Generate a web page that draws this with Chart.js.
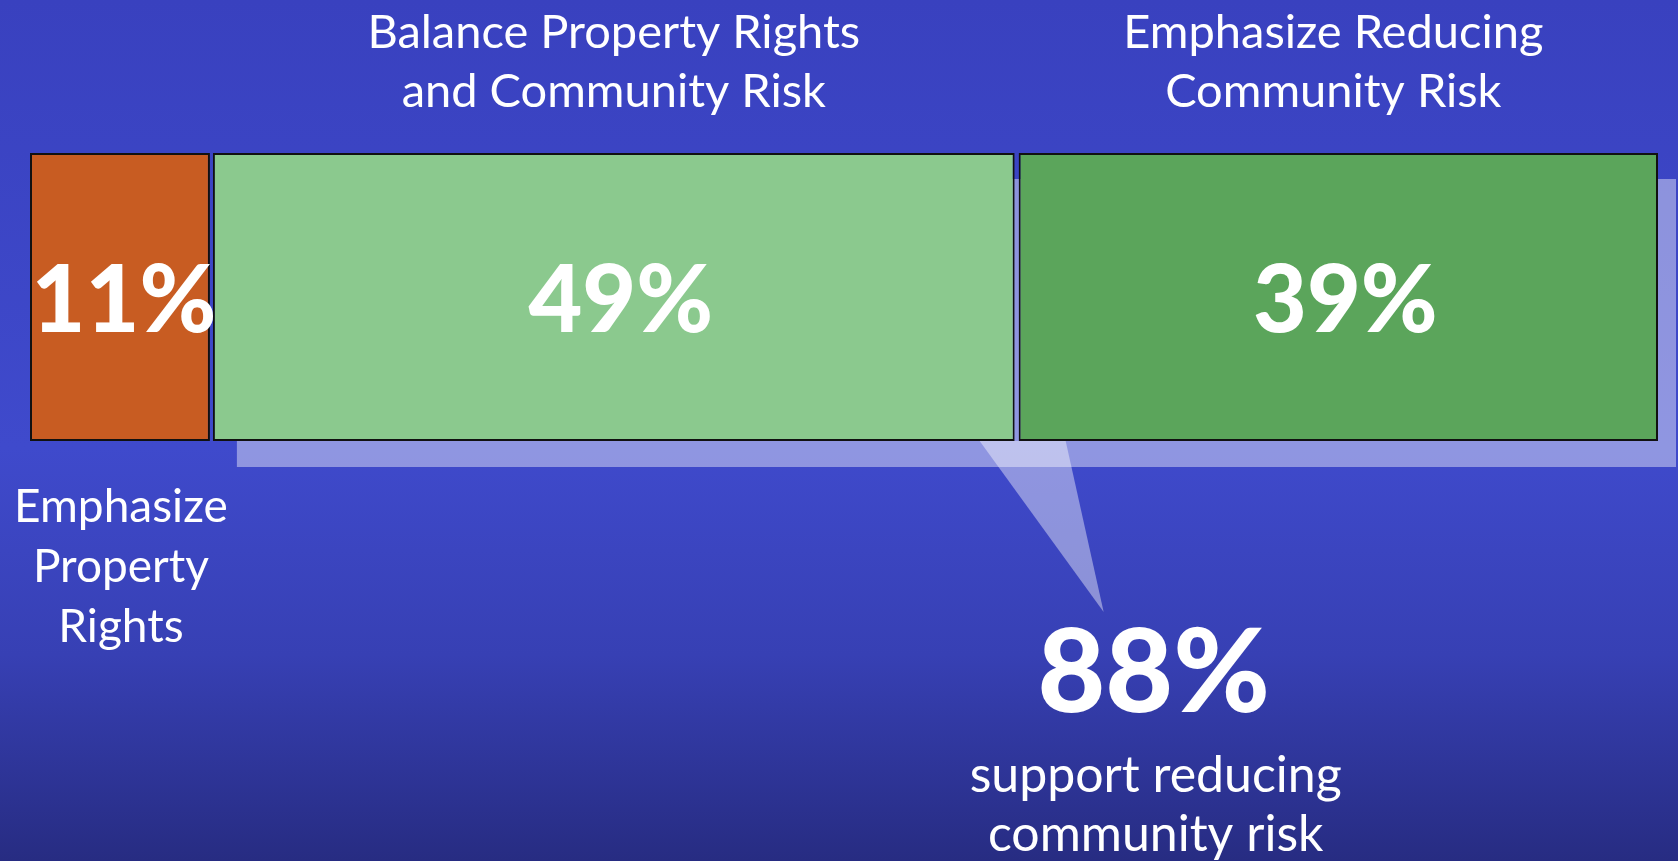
<!DOCTYPE html>
<html><head><meta charset="utf-8">
<script src="https://cdn.jsdelivr.net/npm/chart.js@4"></script>
<style>
html,body{margin:0;padding:0;width:1678px;height:861px;overflow:hidden;}
body{background:linear-gradient(to bottom,#3941bf 0%,#3f4acc 52%,#3740b4 76%,#272c82 100%);}
canvas{display:block;}
</style></head><body>
<canvas id="c" width="1678" height="861"></canvas>
<script>
// ---- data ----
const categories = [
  ["Emphasize", "Property", "Rights"],
  ["Balance Property Rights", "and Community Risk"],
  ["Emphasize Reducing", "Community Risk"]
];
const values = [11, 49, 39];
const summaryText = ["support reducing", "community risk"];

// ---- styles ----
const barColors = ['#c85c22', '#8bc98e', '#5ba55b'];
const FONT = "Lato, 'Open Sans', 'Noto Sans', sans-serif";

const overlay = {
  id: 'overlay',
  afterDatasetsUpdate(chart) {
    // small visual gaps between adjoining segments
    const els = chart.data.datasets.map((d, i) => chart.getDatasetMeta(i).data[0]);
    els.forEach((el, i) => {
      if (i > 0) el.base += 2;
      if (i < els.length - 1) el.x -= (i === 0 ? 1 : 2);
    });
  },
  beforeDatasetsDraw(chart) {
    const c = chart.ctx;
    const els = chart.data.datasets.map((d, i) => chart.getDatasetMeta(i).data[0]);
    const light = els[1], dark = els[2];
    const top = light.y - light.height / 2, bottom = light.y + light.height / 2;
    c.save();
    c.fillStyle = 'rgba(255,255,255,0.42)';
    // drop shadow behind the "reducing risk" group
    c.fillRect(light.base + 24, top + 26, (dark.x + 18) - (light.base + 24), light.height);
    // callout wedge
    const b = (light.x + dark.base) / 2;
    c.beginPath();
    c.moveTo(b - 37, bottom);
    c.lineTo(b + 49, bottom);
    c.lineTo(b + 87, bottom + 171);
    c.closePath();
    c.fill();
    c.restore();
  },
  afterDraw(chart) {
    const c = chart.ctx;
    const els = chart.data.datasets.map((d, i) => chart.getDatasetMeta(i).data[0]);
    c.save();
    c.fillStyle = '#ffffff';
    c.textAlign = 'center';
    c.textBaseline = 'alphabetic';
    els.forEach((el, i) => {
      const cx = (el.base + el.x) / 2;
      const top = el.y - el.height / 2, bottom = el.y + el.height / 2;
      c.font = `900 93px ${FONT}`;
      c.fillText(values[i] + '%', cx + (i === 0 ? 4 : 7), el.y + 35);
      const lines = categories[i];
      if (i === 0) {
        c.font = `400 46px ${FONT}`;
        lines.forEach((t, k) => c.fillText(t, cx + 1, bottom + 81 + k * 60));
      } else {
        c.font = `400 47px ${FONT}`;
        lines.forEach((t, k) => c.fillText(t, cx + (i === 2 ? -5 : 0), top - 46 - (lines.length - 1 - k) * 59));
      }
    });
    const b = (els[1].x + els[2].base) / 2;
    c.font = `900 117px ${FONT}`;
    c.fillText((values[1] + values[2]) + '%', b + 137, 712);
    c.font = `400 50px ${FONT}`;
    summaryText.forEach((t, k) => c.fillText(t, b + 139, 792 + k * 59));
    c.restore();
  }
};

new Chart(document.getElementById('c'), {
  type: 'bar',
  data: {
    labels: ['All respondents'],
    datasets: values.map((v, i) => ({
      label: categories[i].join(' '),
      data: [v],
      backgroundColor: barColors[i],
      borderColor: '#111111',
      borderWidth: 2,
      borderSkipped: false,
      barThickness: 288,
      inflateAmount: 0
    }))
  },
  options: {
    indexAxis: 'y',
    responsive: false,
    animation: false,
    layout: { padding: { left: 30, right: 20, top: 0, bottom: 267 } },
    scales: {
      x: { stacked: true, min: 0, max: 99, display: false },
      y: { stacked: true, display: false }
    },
    plugins: { legend: { display: false }, tooltip: { enabled: false } }
  },
  plugins: [overlay]
});
</script>
</body></html>
